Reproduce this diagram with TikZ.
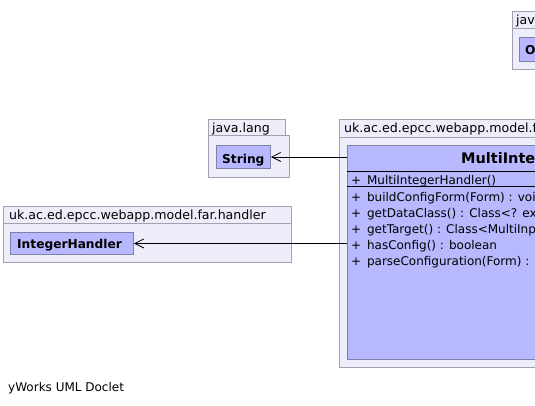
\documentclass[tikz,border=0pt]{standalone}
\usepackage{fontspec}
\setmainfont{DejaVu Sans}
\usetikzlibrary{arrows.meta}
\definecolor{pkgfill}{HTML}{EEEEFA}
\definecolor{pkgdraw}{HTML}{A0A0B0}
\definecolor{clsfill}{HTML}{B8B8FF}
\definecolor{clsdraw}{HTML}{8080A8}
\newcommand{\vis}{+\hspace{5.8pt}}
\begin{document}
\begin{tikzpicture}[x=1pt,y=-1pt,
 pkg/.style={draw=pkgdraw, fill=pkgfill, line width=0.9pt, anchor=north west, inner sep=0pt},
 cls/.style={draw=clsdraw, fill=clsfill, line width=0.9pt, anchor=north west, inner sep=0pt},
 lbl/.style={anchor=base west, inner sep=0pt, font=\fontsize{12}{14}\selectfont},
 pkglbl/.style={anchor=base west, inner sep=0pt, font=\fontsize{12.6}{14}\selectfont},
 bold/.style={anchor=base west, inner sep=0pt, font=\fontsize{12.2}{14}\selectfont\bfseries},
 title/.style={anchor=base west, inner sep=0pt, font=\fontsize{14.5}{16}\selectfont\bfseries},
 divider/.style={draw=black, line width=0.8pt},
 dep/.style={draw=black, line width=0.8pt, -{Straight Barb[length=9pt,width=9pt]}}]
\useasboundingbox (0,0) rectangle (535,405);
\fill[white] (0,0) rectangle (535,405);
\clip (0,0) rectangle (535,405);

% top right package java.lang
\node[pkg, minimum width=77pt, minimum height=17pt] (jtab) at (512,11) {};
\node[pkg, minimum width=81pt, minimum height=41pt] (jbody) at (512,28) {};
\node[pkglbl] (jlbl) at (516,24) {java.lang};
\node[cls, minimum width=60pt, minimum height=24pt] (obj) at (519,37) {};
\node[bold] (objt) at (525,54) {Object};

% java.lang package with String
\node[pkg, minimum width=77pt, minimum height=16pt] (ltab) at (208,119) {};
\node[pkg, minimum width=81pt, minimum height=42pt] (lbody) at (208,135) {};
\node[pkglbl] (llbl) at (212,132) {java.lang};
\node[cls, minimum width=54pt, minimum height=23pt] (str) at (216,145) {};
\node[bold] (strt) at (222,163) {String};

% handler package
\node[pkg, minimum width=288pt, minimum height=17pt] (htab) at (3,206) {};
\node[pkg, minimum width=288pt, minimum height=39pt] (hbody) at (3,223) {};
\node[pkglbl] (hlbl) at (9,219) {uk.ac.ed.epcc.webapp.model.far.handler};
\node[cls, minimum width=123pt, minimum height=22pt] (ih) at (10,232) {};
\node[bold] (iht) at (17,248) {IntegerHandler};

% main package
\node[pkg, minimum width=300pt, minimum height=18pt] (mtab) at (339,119) {};
\node[pkg, minimum width=300pt, minimum height=230pt] (mbody) at (339,137) {};
\node[pkglbl] (mlbl) at (344,132) {uk.ac.ed.epcc.webapp.model.far.handler.multi};
\node[cls, minimum width=300pt, minimum height=214pt] (mih) at (347,145) {};
\node[title] (miht) at (461,163.5) {MultiIntegerHandler};
\draw[divider] (mih.west |- 0,171) -- (mih.east |- 0,171);
\draw[divider] (mih.west |- 0,186) -- (mih.east |- 0,186);
\node[lbl] (c1) at (351,184) {\vis MultiIntegerHandler()};
\node[lbl] (m1) at (351,201.5) {\vis buildConfigForm(Form) : void};
\node[lbl] (m2) at (351,217.5) {\vis getDataClass() : Class<? extends Number>};
\node[lbl] (m3) at (351,233.3) {\vis getTarget() : Class<MultiInput>};
\node[lbl] (m4) at (351,249.2) {\vis hasConfig() : boolean};
\node[lbl] (m5) at (351,265) {\vis parseConfiguration(Form) : Object};

% dependencies
\draw[dep] (str.east -| mih.west) -- (str.east);
\draw[dep] (ih.east -| mih.west) -- (ih.east);

\node[lbl] (foot) at (8,391) {yWorks UML Doclet};
\end{tikzpicture}
\end{document}
